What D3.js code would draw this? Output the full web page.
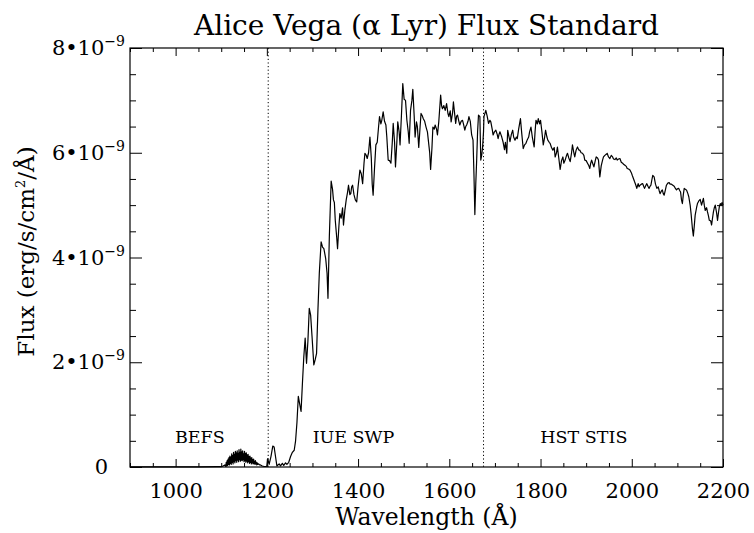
<!DOCTYPE html>
<html>
<head>
<meta charset="utf-8">
<script src="https://cdn.jsdelivr.net/npm/d3@7"></script>
<style>
  html, body { margin: 0; padding: 0; background: #fff; }
  svg { display: block; }
  text { font-family: "DejaVu Serif", serif; fill: #000; }
</style>
</head>
<body>
<svg id="chart" width="754" height="533"></svg>
<script>
// ---- data (flux in units of 1e-9 erg/s/cm^2/Å) ----
const befsWave = [900, 950, 1000, 1050, 1090, 1100, 1104, 1108,
  1110, 1111, 1112, 1113, 1114, 1115, 1116, 1117, 1118, 1119, 1120, 1121, 1122, 1123, 1124, 1125,
  1126, 1127, 1128, 1129, 1130, 1131, 1132, 1133, 1134, 1135, 1136, 1137, 1138, 1139, 1140, 1141,
  1142, 1143, 1144, 1145, 1146, 1147, 1148, 1149, 1150, 1151, 1152, 1153, 1154, 1155, 1156, 1157,
  1158, 1159, 1160, 1161, 1162, 1163, 1164, 1165, 1166, 1167, 1168, 1169, 1170, 1171, 1172, 1173,
  1174, 1175, 1176, 1177, 1178, 1179, 1180, 1182, 1184, 1186, 1188, 1190, 1194, 1199];
const befsFlux = [0.003, 0.004, 0.003, 0.004, 0.006, 0.008, 0.02, 0.04,
  0.01, 0.09, 0.02, 0.12, 0.03, 0.15, 0.05, 0.18, 0.04, 0.21, 0.07, 0.19, 0.05, 0.25, 0.09, 0.22,
  0.06, 0.28, 0.10, 0.24, 0.08, 0.30, 0.12, 0.27, 0.09, 0.31, 0.13, 0.26, 0.10, 0.33, 0.14, 0.28,
  0.11, 0.34, 0.13, 0.29, 0.12, 0.31, 0.14, 0.25, 0.10, 0.30, 0.12, 0.26, 0.09, 0.27, 0.11, 0.23,
  0.08, 0.24, 0.10, 0.20, 0.07, 0.21, 0.09, 0.17, 0.06, 0.18, 0.08, 0.14, 0.06, 0.15, 0.07, 0.11,
  0.05, 0.12, 0.06, 0.09, 0.04, 0.08, 0.05, 0.06, 0.04, 0.04, 0.03, 0.02, 0.01, 0.01];

const iueWave = [1200, 1202, 1205, 1209, 1213, 1216, 1219, 1222, 1227, 1230, 1234, 1237, 1241, 1244, 1248,
  1252, 1256, 1260, 1263, 1266, 1269, 1272, 1275, 1278, 1281, 1284, 1287, 1290, 1293, 1296, 1299,
  1303, 1306, 1309, 1312, 1315, 1319, 1322, 1325, 1329, 1332, 1334, 1337, 1341, 1344, 1346, 1348,
  1350, 1353, 1355, 1358, 1360, 1363, 1366, 1368, 1371, 1374, 1377, 1379, 1382, 1384, 1386, 1388,
  1391, 1394, 1397, 1400, 1404, 1407, 1410, 1413, 1415, 1418, 1420, 1423, 1426, 1429, 1431, 1433,
  1436, 1439, 1442, 1445, 1447, 1450, 1452, 1455, 1458, 1461, 1463, 1466, 1469, 1472, 1475, 1477,
  1480, 1482, 1485, 1487, 1490, 1492, 1495, 1498, 1501, 1504, 1507, 1510, 1512, 1515, 1518, 1520,
  1523, 1525, 1528, 1530, 1533, 1536, 1538, 1541, 1543, 1546, 1549, 1552, 1554, 1557, 1559, 1562,
  1564, 1567, 1569, 1572, 1574, 1577, 1581, 1583, 1585, 1588, 1591, 1594, 1597, 1599, 1602, 1604,
  1607, 1609, 1611, 1614, 1616, 1618, 1621, 1623, 1626, 1629, 1631, 1634, 1636, 1638, 1641, 1643,
  1646, 1649, 1652, 1654, 1656, 1658, 1660, 1662, 1664, 1667, 1669, 1671, 1673, 1675];
const iueFlux = [0.02, 0.16, 0.05, 0.20, 0.40, 0.38, 0.20, 0.02, 0.06, 0.02, 0.07, 0.03, 0.08, 0.05, 0.09,
  0.20, 0.28, 0.32, 0.50, 0.85, 1.35, 1.20, 1.06, 1.60, 2.10, 2.46, 1.98, 2.40, 3.03, 2.90, 2.50,
  1.95, 2.05, 2.17, 3.00, 3.70, 4.30, 4.20, 4.17, 3.98, 3.70, 3.22, 4.40, 5.46, 5.30, 5.10, 5.05,
  4.71, 4.40, 4.17, 4.60, 4.84, 4.75, 4.95, 4.62, 4.90, 5.10, 5.25, 5.38, 5.20, 5.22, 5.35, 5.38,
  5.20, 5.10, 5.06, 5.35, 5.67, 5.60, 5.41, 5.80, 5.99, 5.95, 5.89, 6.00, 6.30, 5.90, 5.40, 5.19,
  5.70, 6.15, 6.20, 6.50, 6.69, 6.55, 6.62, 6.78, 6.60, 6.53, 6.30, 5.86, 5.85, 5.80, 6.20, 6.56,
  6.20, 5.73, 6.20, 6.59, 6.40, 6.15, 6.70, 7.32, 7.02, 7.00, 6.62, 6.40, 6.18, 6.81, 7.00, 7.21,
  6.70, 6.30, 6.59, 6.50, 6.10, 6.50, 6.75, 6.70, 6.65, 6.60, 6.49, 6.40, 6.24, 6.00, 5.68, 6.10,
  6.49, 6.45, 6.53, 6.45, 6.34, 6.60, 7.10, 6.90, 6.84, 6.90, 6.81, 6.94, 6.75, 6.69, 6.80, 6.59,
  6.75, 6.97, 6.80, 6.56, 6.70, 6.72, 6.60, 6.53, 6.60, 6.62, 6.55, 6.43, 6.50, 6.53, 6.60, 6.69,
  6.60, 6.34, 6.24, 5.60, 4.82, 5.40, 5.86, 6.40, 6.72, 6.69, 5.86, 5.95, 6.11, 6.40];

const stisWave = [1676, 1680, 1683, 1686, 1689, 1691, 1694, 1696, 1699, 1702, 1705, 1707, 1709, 1711, 1713,
  1715, 1718, 1721, 1723, 1726, 1728, 1731, 1733, 1736, 1739, 1741, 1744, 1747, 1749, 1752, 1756,
  1759, 1762, 1765, 1768, 1771, 1774, 1776, 1779, 1782, 1786, 1788, 1790, 1793, 1795, 1798, 1800,
  1803, 1806, 1809, 1811, 1814, 1816, 1819, 1821, 1824, 1827, 1830, 1832, 1835, 1837, 1840, 1843,
  1846, 1849, 1851, 1854, 1857, 1859, 1862, 1865, 1868, 1870, 1873, 1875, 1878, 1881, 1884, 1886,
  1889, 1892, 1895, 1897, 1900, 1903, 1906, 1908, 1910, 1912, 1915, 1917, 1920, 1922, 1925, 1927,
  1930, 1933, 1936, 1938, 1941, 1944, 1946, 1949, 1952, 1955, 1958, 1960, 1963, 1966, 1968, 1971,
  1974, 1977, 1980, 1982, 1985, 1988, 1990, 1993, 1996, 1999, 2001, 2004, 2006, 2009, 2011, 2014,
  2016, 2018, 2021, 2024, 2026, 2028, 2031, 2033, 2036, 2038, 2040, 2042, 2044, 2046, 2049, 2052,
  2055, 2058, 2060, 2062, 2065, 2067, 2069, 2071, 2074, 2076, 2079, 2082, 2084, 2087, 2090, 2093,
  2095, 2098, 2100, 2103, 2105, 2107, 2109, 2111, 2113, 2115, 2118, 2120, 2123, 2125, 2128, 2130,
  2133, 2135, 2137, 2139, 2142, 2144, 2147, 2150, 2153, 2157, 2159, 2161, 2164, 2166, 2168, 2170,
  2173, 2175, 2177, 2179, 2181, 2183, 2186, 2188, 2190, 2192, 2194, 2196, 2198, 2200];
const stisFlux = [6.69, 6.81, 6.70, 6.56, 6.62, 6.59, 6.45, 6.34, 6.40, 6.43, 6.35, 6.27, 6.35, 6.40, 6.35,
  6.30, 6.20, 6.06, 6.20, 5.99, 6.43, 6.30, 6.21, 6.35, 6.43, 6.30, 6.24, 6.30, 6.27, 6.45, 6.65,
  6.35, 6.08, 6.15, 6.18, 6.25, 6.30, 6.40, 6.49, 6.30, 6.11, 6.40, 6.62, 6.55, 6.65, 6.55, 6.62,
  6.40, 6.15, 6.30, 6.43, 6.30, 6.24, 6.20, 6.18, 6.10, 6.05, 6.10, 5.92, 6.00, 6.11, 5.90, 5.68,
  5.85, 5.92, 5.80, 5.86, 5.95, 5.99, 5.90, 5.83, 6.00, 6.15, 6.00, 5.92, 6.05, 6.11, 6.05, 6.05,
  6.00, 5.99, 5.95, 5.86, 5.85, 5.80, 5.75, 5.70, 5.80, 5.86, 5.78, 5.73, 5.85, 5.92, 5.90, 5.86,
  5.54, 5.75, 5.86, 5.92, 5.95, 5.97, 5.99, 5.92, 5.89, 5.95, 5.92, 5.88, 5.87, 5.90, 5.86, 5.88,
  5.89, 5.82, 5.80, 5.78, 5.76, 5.74, 5.70, 5.69, 5.67, 5.62, 5.57, 5.50, 5.45, 5.38, 5.32, 5.41,
  5.35, 5.38, 5.40, 5.41, 5.36, 5.32, 5.38, 5.41, 5.35, 5.32, 5.36, 5.38, 5.48, 5.57, 5.54, 5.40,
  5.32, 5.35, 5.28, 5.22, 5.27, 5.29, 5.22, 5.19, 5.30, 5.38, 5.42, 5.43, 5.40, 5.40, 5.38, 5.36,
  5.33, 5.29, 5.31, 5.32, 5.28, 5.25, 5.10, 5.03, 5.20, 5.32, 5.30, 5.29, 5.22, 5.16, 5.00, 4.84,
  4.55, 4.41, 4.60, 4.81, 4.95, 5.03, 5.08, 5.11, 5.00, 5.13, 5.00, 4.90, 4.95, 4.87, 4.80, 4.71,
  4.70, 4.62, 4.75, 4.87, 4.95, 5.00, 4.85, 4.71, 4.85, 4.97, 5.03, 5.00, 5.05, 5.00];

const xMajorTicks = [1000, 1200, 1400, 1600, 1800, 2000, 2200];
const yMajorTicks = [0, 2, 4, 6, 8];
const yTickMantissa = ["0", "2", "4", "6", "8"];
const boundaries = [1203, 1675];
const regionLabels = ["BEFS", "IUE SWP", "HST STIS"];
const regionLabelWave = [1053, 1390, 1895];

// ---- layout ----
const svg = d3.select("#chart");
const L = 130, R = 723, T = 48, B = 467;
const x = d3.scaleLinear().domain([900, 2200]).range([L, R]);
const y = d3.scaleLinear().domain([0, 8]).range([B, T]);

const xMinor = d3.range(900, 2201, 50).filter(v => !xMajorTicks.includes(v));
const yMinor = d3.range(0, 8.01, 0.5).filter(v => !yMajorTicks.includes(v));

function cleanAxis(g) {
  g.select(".domain").remove();
  g.selectAll(".tick line").attr("stroke", "#000").attr("stroke-width", 1);
}

// bottom axis with labels
const gB = svg.append("g").attr("transform", `translate(0,${B})`)
  .call(d3.axisBottom(x).tickValues(xMajorTicks).tickSize(-8).tickFormat(d3.format("d")));
cleanAxis(gB);
gB.selectAll(".tick text").attr("y", 0).attr("dy", null)
  .attr("transform", "translate(0,31)")
  .style("font-size", "21px").style("font-family", "'DejaVu Serif', serif");
svg.append("g").attr("transform", `translate(0,${B})`)
  .call(d3.axisBottom(x).tickValues(xMinor).tickSize(-4).tickFormat(""))
  .call(cleanAxis);
// top axis
svg.append("g").attr("transform", `translate(0,${T})`)
  .call(d3.axisTop(x).tickValues(xMajorTicks).tickSize(-8).tickFormat(""))
  .call(cleanAxis);
svg.append("g").attr("transform", `translate(0,${T})`)
  .call(d3.axisTop(x).tickValues(xMinor).tickSize(-4).tickFormat(""))
  .call(cleanAxis);
// left axis
const gL = svg.append("g").attr("transform", `translate(${L},0)`)
  .call(d3.axisLeft(y).tickValues(yMajorTicks).tickSize(-12).tickFormat(""));
cleanAxis(gL);
svg.append("g").attr("transform", `translate(${L},0)`)
  .call(d3.axisLeft(y).tickValues(yMinor).tickSize(-6).tickFormat(""))
  .call(cleanAxis);
// right axis
svg.append("g").attr("transform", `translate(${R},0)`)
  .call(d3.axisRight(y).tickValues(yMajorTicks).tickSize(-12).tickFormat(""))
  .call(cleanAxis);
svg.append("g").attr("transform", `translate(${R},0)`)
  .call(d3.axisRight(y).tickValues(yMinor).tickSize(-6).tickFormat(""))
  .call(cleanAxis);

// y tick labels with superscript exponent
yMajorTicks.forEach((v, i) => {
  const t = svg.append("text")
    .attr("x", L - 5).attr("y", y(v) + 7)
    .attr("text-anchor", "end")
    .style("font-size", "21px");
  if (v === 0) {
    t.attr("x", L - 22).text(yTickMantissa[i]);
  } else {
    t.append("tspan").text(yTickMantissa[i] + "•10");
    t.append("tspan").attr("dy", -9).style("font-size", "14px").text("−9");
  }
});

// frame
svg.append("rect").attr("x", L).attr("y", T).attr("width", R - L).attr("height", B - T)
  .attr("fill", "none").attr("stroke", "#000").attr("stroke-width", 1.2);

// boundary dotted lines
svg.selectAll("line.bound").data(boundaries).join("line")
  .attr("class", "bound")
  .attr("x1", d => x(d)).attr("x2", d => x(d))
  .attr("y1", T).attr("y2", B)
  .attr("stroke", "#000").attr("stroke-width", 1)
  .attr("stroke-dasharray", "1.2,2.4");

// spectrum
const spec = [];
befsWave.forEach((w, i) => spec.push([w, befsFlux[i]]));
iueWave.forEach((w, i) => spec.push([w, iueFlux[i]]));
stisWave.forEach((w, i) => spec.push([w, stisFlux[i]]));
svg.append("path").datum(spec)
  .attr("fill", "none").attr("stroke", "#000").attr("stroke-width", 1.2)
  .attr("stroke-linejoin", "round")
  .attr("d", d3.line().x(d => x(d[0])).y(d => y(d[1])));

// region labels
svg.selectAll("text.region").data(regionLabels).join("text")
  .attr("class", "region")
  .attr("x", (d, i) => x(regionLabelWave[i])).attr("y", 443)
  .attr("text-anchor", "middle")
  .style("font-size", "17.5px")
  .text(d => d);

// title
svg.append("text").attr("x", (L + R) / 2).attr("y", 35)
  .attr("text-anchor", "middle").style("font-size", "28px")
  .text("Alice Vega (α Lyr) Flux Standard");

// x axis title
svg.append("text").attr("x", (L + R) / 2).attr("y", 525)
  .attr("text-anchor", "middle").style("font-size", "23.5px")
  .text("Wavelength (Å)");

// y axis title
const yt = svg.append("text")
  .attr("transform", `translate(34,${(T + B) / 2 - 6}) rotate(-90)`)
  .attr("text-anchor", "middle").style("font-size", "23px");
yt.append("tspan").text("Flux (erg/s/cm");
yt.append("tspan").attr("dy", -9).style("font-size", "13px").text("2");
yt.append("tspan").attr("dy", 9).text("/Å)");
</script>
</body>
</html>
